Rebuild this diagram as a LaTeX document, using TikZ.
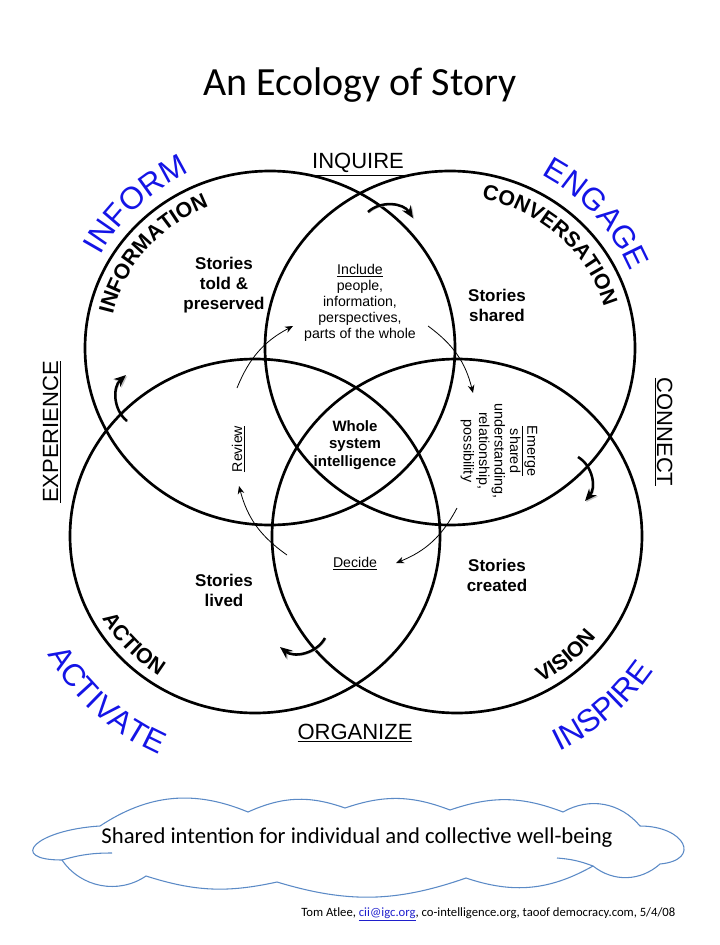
\documentclass[tikz,border=0pt]{standalone}
\usepackage{fontspec}
\setmainfont{Liberation Sans}
\newfontfamily\calibri{Carlito}
\usepackage{tikz}
\usetikzlibrary{arrows.meta,positioning,calc,decorations.text}
\definecolor{sayblue}{HTML}{1414E6}
\definecolor{cloudline}{HTML}{5B8AC6}
\definecolor{mailblue}{HTML}{1F1FCC}
\newcommand\callfont{\fontsize{23.5}{23.5}\selectfont}
\newcommand\ringfont{\bfseries\fontsize{16}{16}\selectfont}
\tikzset{
  ring/.style={line width=2pt},
  callword/.style={decorate,decoration={text along path,text align=center,text color=sayblue,text={|\callfont|#1}}},
  ringword/.style={decorate,decoration={text along path,text align=center,text={|\ringfont|#1}}},
  story/.style={font=\bfseries\fontsize{12.75}{15}\selectfont,align=center},
  verb/.style={font=\fontsize{10.6}{12}\selectfont,align=center},
  compass/.style={font=\fontsize{16.5}{16.5}\selectfont,anchor=base},
  loopstep/.style={line width=0.6pt,-{Stealth[length=6pt,width=5pt]}},
  turn/.style={line width=1.9pt,-{Stealth[length=9pt,width=7.5pt]},
    preaction={draw=black!25,transform canvas={shift={(0.9pt,-0.9pt)}}}},
  cloudedge/.style={draw=cloudline,line width=0.8pt}
}

\begin{document}
\begin{tikzpicture}[x=0.75pt,y=-0.75pt]
  \useasboundingbox (0,0) rectangle (720,945);
  \node[font=\calibri\fontsize{30}{30}\selectfont,anchor=base] (title) at (360,96) {An Ecology of Story};

  \coordinate (cInfo) at (270,348);
  \coordinate (cConv) at (450,348);
  \coordinate (cAct) at (255,536);
  \coordinate (cVis) at (457,536);
  \foreach \c in {cInfo,cConv,cAct,cVis}
    \draw[ring] (\c) ellipse[x radius=185,y radius=177];

  % words round the rings
  \path[callword=INFORM] ([shift={(197:193)}]cInfo) arc[start angle=197,end angle=257,radius=193];
  \path[callword=ENGAGE] ([shift={(287:196)}]cConv) arc[start angle=287,end angle=348,radius=196];
  \path[callword=ACTIVATE] ([shift={(167:239)}]cAct) arc[start angle=167,end angle=97,radius=239];
  \path[callword=INSPIRE] ([shift={(80:238)}]cVis) arc[start angle=80,end angle=19,radius=238];
  \path[ringword=INFORMATION] ([shift={(183:161 and 153)}]cInfo) arc[start angle=183,end angle=257,x radius=161,y radius=153];
  \path[ringword=CONVERSATION] ([shift={(276:160 and 152)}]cConv) arc[start angle=276,end angle=350,x radius=160,y radius=152];
  \path[ringword=ACTION] ([shift={(167:176 and 167)}]cAct) arc[start angle=167,end angle=107,x radius=176,y radius=167];
  \path[ringword=VISION] ([shift={(79:175 and 167)}]cVis) arc[start angle=79,end angle=19,x radius=175,y radius=167];

  \node[compass] (inquire) at (358,169) {\underline{INQUIRE}};
  \node[compass] (organize) at (355,739) {\underline{ORGANIZE}};
  \node[compass,rotate=90] (experience) at (58,432) {\underline{EXPERIENCE}};
  \node[compass,rotate=-90] (connect) at (657,432) {\underline{CONNECT}};

  \node[story] (told) at (224,285) {Stories\\told \&\\preserved};
  \node[story] (shared) at (497,305) {Stories\\shared};
  \node[story] (lived) at (224,590) {Stories\\lived};
  \node[story] (created) at (497,575) {Stories\\created};
  \node[story,font=\bfseries\fontsize{11.25}{13}\selectfont] (whole) at (355,445) {Whole\\system\\intelligence};

  \node[verb] (include) at (360,303) {\underline{Include}\\people,\\information,\\perspectives,\\parts of the whole};
  \node[verb,font=\fontsize{10.8}{11.6}\selectfont,rotate=-90] (emerge) at (499,451) {\underline{Emerge}\\shared\\understanding,\\relationship,\\possibility};
  \node[verb,anchor=base] (decide) at (355,567) {\underline{Decide}};
  \node[verb,anchor=base,rotate=90] (review) at (242,449) {\underline{Review}};

  % inner cycle
  \coordinate (rv0) at (237,388);
  \coordinate (rv1) at (293,326);
  \coordinate (in0) at (428,326);
  \coordinate (in1) at (473,393);
  \coordinate (em0) at (457,508);
  \coordinate (em1) at (396,563);
  \coordinate (de0) at (287,555);
  \coordinate (de1) at (239,486);
  \draw[loopstep] (rv0) to[bend left=20] (rv1);
  \draw[loopstep] (in0) to[bend left=20] (in1);
  \draw[loopstep] (em0) to[bend left=20] (em1);
  \draw[loopstep] (de0) to[bend left=20] (de1);

  % outer cycle
  \coordinate (tp0) at (368,212);
  \coordinate (tp1) at (413,218);
  \coordinate (rt0) at (578,457);
  \coordinate (rt1) at (585,501);
  \coordinate (bt0) at (325,638);
  \coordinate (bt1) at (280,647);
  \coordinate (lf0) at (127,421);
  \coordinate (lf1) at (126,375);
  \draw[turn] (tp0) to[bend left=50] (tp1);
  \draw[turn] (rt0) to[bend left=50] (rt1);
  \draw[turn] (bt0) to[bend left=50] (bt1);
  \draw[turn] (lf0) to[bend left=50] (lf1);

  % cloud
  \coordinate (k1) at (62,860);
  \coordinate (k2) at (100,826);
  \coordinate (k3) at (248,812);
  \coordinate (k4) at (345,808);
  \coordinate (k5) at (450,810);
  \coordinate (k6) at (563,812);
  \coordinate (k7) at (640,826);
  \coordinate (k8) at (660,864);
  \coordinate (k9) at (593,866);
  \coordinate (k10) at (466,878);
  \coordinate (k11) at (277,882);
  \coordinate (k12) at (146,876);
  \coordinate (seamL) at (112,853);
  \coordinate (seamR) at (557,858);
  \draw[cloudedge] (k1) .. controls +(-55,0) and +(-65,4) .. (k2) to[bend left=28] (k3) to[bend left=22] (k4)
    to[bend left=20] (k5) to[bend left=20] (k6) to[bend left=40] (k7) .. controls +(45,0) and +(42,-4) .. (k8)
    to[bend left=40] (k9) to[bend left=24] (k10) to[bend left=18] (k11) to[bend left=15] (k12)
    to[bend left=45] cycle;
  \draw[cloudedge] (k1) to[bend left=8] (seamL);
  \draw[cloudedge] (k9) to[bend right=8] (seamR);
  \node[font=\calibri\fontsize{17}{17}\selectfont] (intent) at (357,838) {Shared intention for individual and collective well-being};
  \node[font=\calibri\fontsize{9.5}{10}\selectfont,anchor=base east] (credit) at (680,916)
    {Tom Atlee, \textcolor{mailblue}{\underline{cii@igc.org}}, co-intelligence.org, taoof democracy.com, 5/4/08};
\end{tikzpicture}
\end{document}
